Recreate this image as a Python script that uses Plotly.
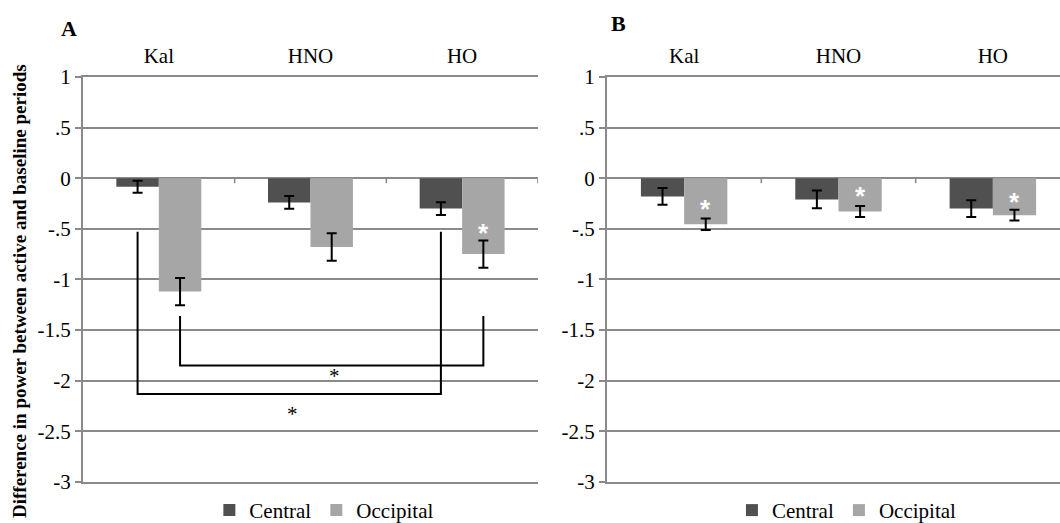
import plotly.graph_objects as go

# ---------------- data ----------------
categories = ["Kal", "HNO", "HO"]
series_names = ["Central", "Occipital"]

a_central = [-0.085, -0.24, -0.30]
a_central_err = [0.06, 0.063, 0.063]
a_occipital = [-1.12, -0.68, -0.75]
a_occipital_err = [0.135, 0.135, 0.135]

b_central = [-0.18, -0.21, -0.30]
b_central_err = [0.082, 0.088, 0.083]
b_occipital = [-0.455, -0.33, -0.365]
b_occipital_err = [0.057, 0.054, 0.053]

ytick_vals = [1, 0.5, 0, -0.5, -1, -1.5, -2, -2.5, -3]
ytick_text = ["1", ".5", "0", "-.5", "-1", "-1.5", "-2", "-2.5", "-3"]

# white significance stars inside occipital bars (None = no star)
a_star_y = [None, None, -0.49]
b_star_y = [-0.26, -0.13, -0.19]

# comparison brackets in panel A: (series idx, from cat, to cat, top y, bottom y, star y)
brackets_a = [
    (0, 0, 2, -0.53, -2.13, -2.33),
    (1, 0, 2, -1.36, -1.85, -1.95),
]

y_title = "Difference in power between active and baseline periods"
panel_labels = ["A", "B"]

# ---------------- style ----------------
SERIF = "'Liberation Serif', 'Times New Roman', serif"
DARK = "#505050"
LIGHT = "#a6a6a6"
GRID = "#8a8a8a"
BARGAP = 0.44
OFF = (1 - BARGAP) / 4  # half of a bar width -> center offset of each bar

fig = go.Figure()

def add_panel(cen, cen_err, occ, occ_err, xa, ya, legend):
    for name, vals, errs, col in [(series_names[0], cen, cen_err, DARK),
                                  (series_names[1], occ, occ_err, LIGHT)]:
        fig.add_trace(go.Bar(
            x=categories, y=vals, name=name, marker_color=col,
            marker_line_width=0,
            error_y=dict(type="data", array=errs, color="black",
                         thickness=2, width=5),
            xaxis=xa, yaxis=ya, legend=legend,
        ))

add_panel(a_central, a_central_err, a_occipital, a_occipital_err, "x", "y", "legend")
add_panel(b_central, b_central_err, b_occipital, b_occipital_err, "x2", "y2", "legend2")

axis_y_common = dict(
    range=[-3, 1], tickvals=ytick_vals, ticktext=ytick_text,
    showgrid=True, gridcolor=GRID, gridwidth=1.6,
    zeroline=True, zerolinecolor=GRID, zerolinewidth=1.6,
    showline=True, linecolor=GRID, linewidth=2,
    ticks="outside", ticklen=6, tickcolor=GRID, tickwidth=1.6,
    tickfont=dict(family=SERIF, size=21, color="black"),
    domain=[0.0784, 0.853], automargin=False,
)
axis_x_common = dict(
    type="category", categoryorder="array", categoryarray=categories,
    side="top", showgrid=False, zeroline=False,
    showline=True, mirror=True, linecolor=GRID, linewidth=1.6,
    ticks="", tickfont=dict(family=SERIF, size=21, color="black"),
    ticklabelstandoff=4, automargin=False,
)

fig.update_layout(
    width=1060, height=523,
    margin=dict(l=0, r=0, t=0, b=0, autoexpand=False),
    paper_bgcolor="white", plot_bgcolor="white",
    font=dict(family=SERIF, color="black"),
    barmode="group", bargap=BARGAP, bargroupgap=0,
    showlegend=True,
    xaxis=dict(axis_x_common, domain=[0.0783, 0.5075], range=[-0.5, 2.5], anchor="y"),
    yaxis=dict(axis_y_common, anchor="x"),
    xaxis2=dict(axis_x_common, domain=[0.5726, 1.0], range=[-0.5, 2.435], anchor="y2"),
    yaxis2=dict(axis_y_common, anchor="x2"),
    legend=dict(orientation="h", x=0.306, xanchor="center", y=0.024, yanchor="middle",
                font=dict(family=SERIF, size=21, color="black"),
                itemwidth=30, bgcolor="rgba(0,0,0,0)", traceorder="normal"),
    legend2=dict(orientation="h", x=0.799, xanchor="center", y=0.024, yanchor="middle",
                 font=dict(family=SERIF, size=21, color="black"),
                 itemwidth=30, bgcolor="rgba(0,0,0,0)", traceorder="normal"),
)

shapes = []
annotations = []

# small tick marks on the zero line at category boundaries
for xa in ["x", "x2"]:
    for i in range(len(categories)):
        shapes.append(dict(type="line", xref=xa, yref="y" if xa == "x" else "y2",
                           x0=i + 0.5, x1=i + 0.5, ysizemode="pixel", yanchor=0,
                           y0=0, y1=-5, line=dict(color=GRID, width=1.6)))

# brackets (panel A)
for s_idx, c0, c1, ytop, ybot, ystar in brackets_a:
    off = -OFF if s_idx == 0 else OFF
    xa0, xa1 = c0 + off, c1 + off
    path = f"M {xa0},{ytop} L {xa0},{ybot} L {xa1},{ybot} L {xa1},{ytop}"
    shapes.append(dict(type="path", xref="x", yref="y", path=path,
                       line=dict(color="black", width=2)))
    annotations.append(dict(x=(xa0 + xa1) / 2 + 0.02, y=ystar, xref="x", yref="y",
                            text="*", showarrow=False,
                            font=dict(family=SERIF, size=21, color="black")))

# white stars in occipital bars
for xa, ya, stars in [("x", "y", a_star_y), ("x2", "y2", b_star_y)]:
    for i, sy in enumerate(stars):
        if sy is None:
            continue
        annotations.append(dict(x=i + OFF, y=sy, xref=xa, yref=ya, text="<b>*</b>",
                                showarrow=False, yshift=-5,
                                font=dict(family="'Liberation Sans', Arial, sans-serif",
                                          size=26, color="white")))

# y-axis title of panel A
annotations.append(dict(x=19 / 1060, y=1 - 291 / 523, xref="paper", yref="paper",
                        xanchor="center", yanchor="middle", textangle=-90,
                        text="<b>" + y_title + "</b>", showarrow=False,
                        font=dict(family=SERIF, size=19, color="black")))

# panel letters
annotations.append(dict(x=69 / 1060, y=1 - 29 / 523, xref="paper", yref="paper",
                        xanchor="center", yanchor="middle",
                        text="<b>" + panel_labels[0] + "</b>", showarrow=False,
                        font=dict(family=SERIF, size=22, color="black")))
annotations.append(dict(x=618 / 1060, y=1 - 23 / 523, xref="paper", yref="paper",
                        xanchor="center", yanchor="middle",
                        text="<b>" + panel_labels[1] + "</b>", showarrow=False,
                        font=dict(family=SERIF, size=22, color="black")))

fig.update_layout(shapes=shapes, annotations=annotations)

fig.write_html("out.html")
